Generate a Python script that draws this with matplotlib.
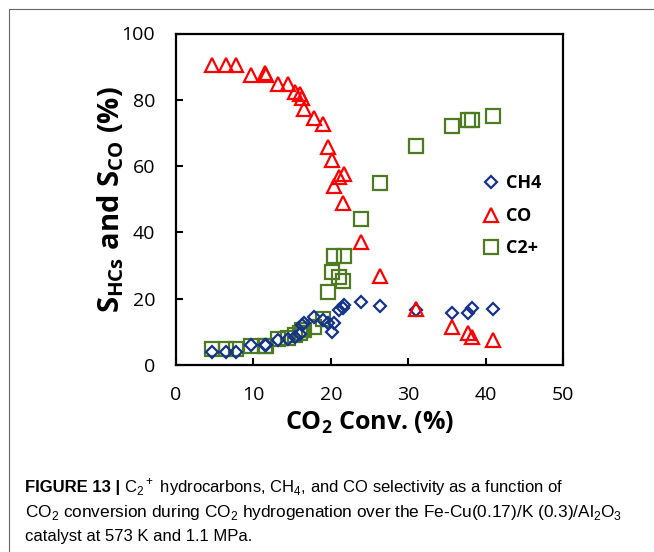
import matplotlib
matplotlib.use('Agg')
import matplotlib.pyplot as plt
from matplotlib import font_manager
from matplotlib.lines import Line2D

# CO2 conversion (%) and selectivities (%)
conversion = [4.6, 6.5, 7.7, 9.65, 11.5, 11.6, 13.2, 14.5, 15.4, 16.0, 16.3, 16.5, 17.8, 19.0,
              19.7, 20.2, 20.4, 21.0, 21.6, 21.75, 23.9, 26.3, 31.0, 35.7, 37.75, 38.2, 41.0]
sel_co = [90.6, 90.6, 90.6, 87.6, 88.0, 87.5, 84.8, 84.8, 82.3, 81.6, 80.6, 77.3, 74.5, 72.8,
          65.8, 61.7, 53.9, 56.6, 48.9, 57.7, 37.0, 26.7, 16.8, 11.6, 9.6, 8.4, 7.6]
sel_ch4 = [4.0, 4.0, 4.0, 6.0, 6.0, 6.0, 7.4, 7.9, 8.4, 9.5, 12.1, 12.8, 14.4, 13.6,
           12.6, 10.0, 12.6, 16.5, 17.3, 18.0, 19.0, 17.8, 16.6, 15.8, 15.8, 17.2, 16.9]
sel_c2 = [4.7, 4.7, 4.7, 5.8, 5.8, 5.8, 7.8, 8.1, 9.1, 9.6, 10.6, 10.6, 11.6, 13.8,
          22.1, 28.2, 32.9, 26.5, 25.2, 32.9, 44.0, 55.0, 66.0, 72.0, 73.8, 73.8, 75.0]

installed = {f.name for f in font_manager.fontManager.ttflist}
cap_font = 'Liberation Sans Narrow' if 'Liberation Sans Narrow' in installed else 'Liberation Sans'

plt.rcParams['font.family'] = ['Open Sans', 'DejaVu Sans']
plt.rcParams['mathtext.fontset'] = 'custom'
plt.rcParams['mathtext.rm'] = cap_font
plt.rcParams['mathtext.bf'] = 'Open Sans:bold'

W, H = 654, 552
fig = plt.figure(figsize=(W / 100, H / 100), dpi=100)
ax = fig.add_axes([176 / W, 1 - 365 / H, (563 - 176) / W, (365 - 33.5) / H])

ax.plot(conversion, sel_c2, 's', ms=10, mfc='none', mec='#4E7A22', mew=1.6, zorder=2)
ax.plot(conversion, sel_ch4, 'D', ms=6.2, mfc='none', mec='#14338A', mew=1.6, zorder=3)
ax.plot(conversion, sel_co, '^', ms=9.5, mfc='none', mec='#FF0000', mew=1.6, zorder=4)

ax.set_xlim(0, 50)
ax.set_ylim(0, 100)
ax.set_xticks(range(0, 51, 10))
ax.set_yticks(range(0, 101, 20))
for s in ax.spines.values():
    s.set_linewidth(1.6)
ax.tick_params(direction='in', length=5, width=1.5, labelsize=14)
ax.tick_params(axis='y', pad=15)
ax.tick_params(axis='x', pad=15)

ax.set_xlabel('CO$_\\mathbf{2}$ Conv. (%)', fontsize=18, fontweight='bold')
ax.xaxis.set_label_coords(0.5, -0.135)
ax.set_ylabel('S$_\\mathbf{HCs}$ and S$_\\mathbf{CO}$ (%)', fontsize=21, fontweight='bold')
ax.yaxis.set_label_coords(-0.128, 0.5)

handles = [
    Line2D([], [], ls='none', marker='D', ms=6.2, mfc='none', mec='#14338A', mew=1.6),
    Line2D([], [], ls='none', marker='^', ms=9.5, mfc='none', mec='#FF0000', mew=1.6),
    Line2D([], [], ls='none', marker='s', ms=10, mfc='none', mec='#4E7A22', mew=1.6),
]
leg = ax.legend(handles, ['CH4', 'CO', 'C2+'], loc='upper left', bbox_to_anchor=(0.79, 0.575),
                frameon=False, borderaxespad=0, borderpad=0, handlelength=1.0, handletextpad=0.35,
                labelspacing=0.8, prop={'weight': 'bold', 'size': 13})

# thin gray frame around the figure panel
fig.add_artist(Line2D([9 / W, 1], [1 - 9 / H, 1 - 9 / H], color='#666666', lw=0.8))
fig.add_artist(Line2D([9 / W, 9 / W], [0, 1 - 9 / H], color='#666666', lw=0.8))

# caption
x0 = 25 / W
t = fig.text(x0, 1 - 492 / H, 'FIGURE 13 |', fontsize=12, fontweight='bold', family=cap_font,
             va='baseline')
fig.canvas.draw()
bb = t.get_window_extent(fig.canvas.get_renderer())
fig.text(bb.x1 / W + 4 / W, 1 - 492 / H,
         'C$_2$$^+$ hydrocarbons, CH$_4$, and CO selectivity as a function of',
         fontsize=12, family=cap_font, va='baseline')
fig.text(x0, 1 - 517 / H,
         'CO$_2$ conversion during CO$_2$ hydrogenation over the Fe-Cu(0.17)/K (0.3)/Al$_2$O$_3$',
         fontsize=12.4, family=cap_font, va='baseline')
fig.text(x0, 1 - 541 / H, 'catalyst at 573 K and 1.1 MPa.', fontsize=12, family=cap_font,
         va='baseline')

fig.savefig('out.png', dpi=100)
